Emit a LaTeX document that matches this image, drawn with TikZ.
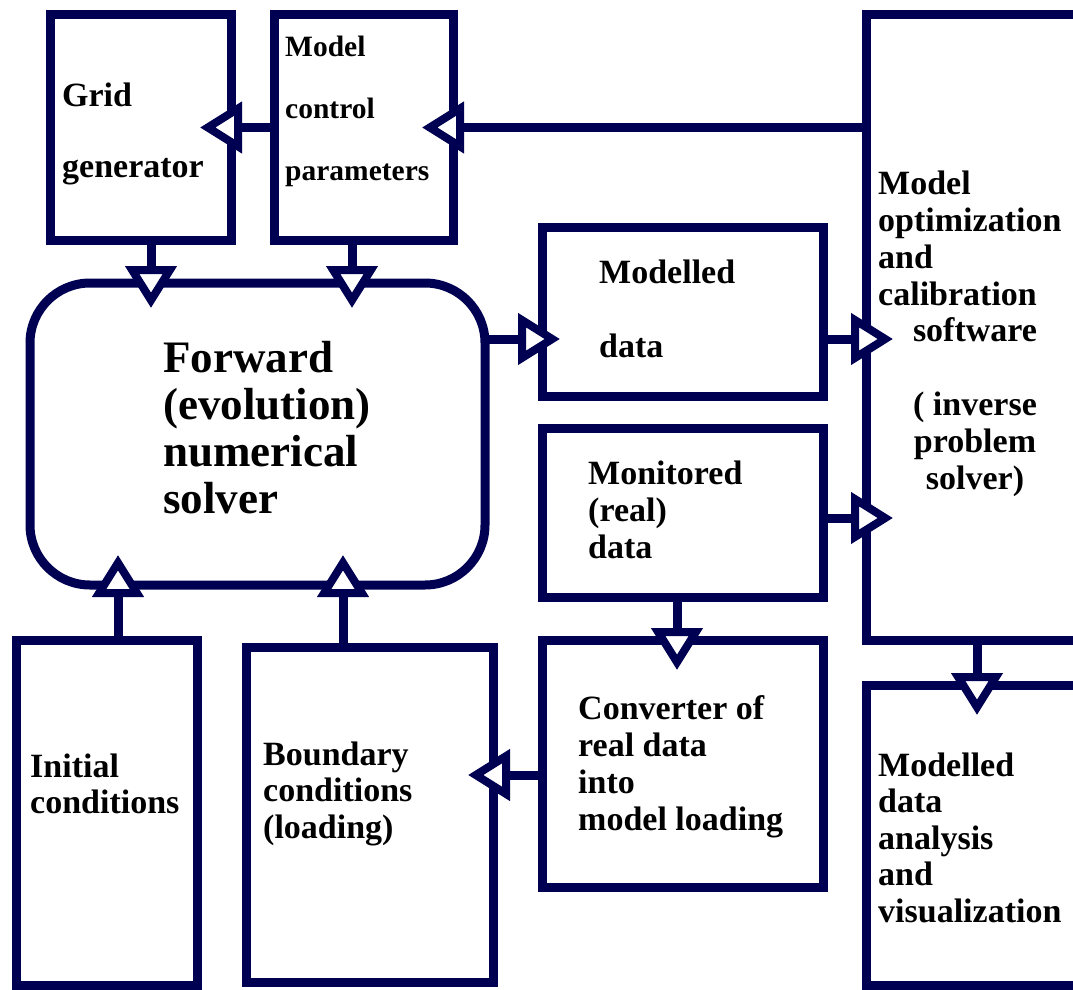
\documentclass[tikz,border=0pt]{standalone}
\usepackage{fontspec}
\setmainfont{Liberation Serif}
\usetikzlibrary{arrows.meta}
\definecolor{navy}{RGB}{0,0,82}

\begin{document}
\begin{tikzpicture}[
    x=1pt, y=-1pt,
    box/.style={draw=navy, line width=9pt, inner sep=0pt, outer sep=0pt},
    flow/.style={draw=navy, line width=9pt,
      -{Triangle[fill=white, length=42pt, width=50pt, line width=8pt]},
      shorten >=-#1},
    flow/.default=28pt,
    lbl/.style={anchor=base west, align=left, inner sep=0pt,
      font=\bfseries\fontsize{34}{37}\selectfont}
  ]
  \useasboundingbox (0,0) rectangle (1073,990);

  % boxes
  \node[box, minimum width=181pt, minimum height=225pt] (grid) at (140.5,127.5) {};
  \node[box, minimum width=179pt, minimum height=225pt] (ctrl) at (363.5,127.5) {};
  \node[box, minimum width=244pt, minimum height=625pt] (opt) at (988,327.5) {};
  \node[box, minimum width=244pt, minimum height=300pt] (anal) at (988,835) {};
  \node[box, rounded corners=60pt, minimum width=455pt, minimum height=302pt] (solver) at (257.5,434) {};
  \node[box, minimum width=281pt, minimum height=169pt] (mod) at (682.5,311.5) {};
  \node[box, minimum width=281pt, minimum height=169pt] (mon) at (682.5,512.5) {};
  \node[box, minimum width=281pt, minimum height=247pt] (conv) at (682.5,763.5) {};
  \node[box, minimum width=181pt, minimum height=345pt] (init) at (106.5,812.5) {};
  \node[box, minimum width=247pt, minimum height=335pt] (bound) at (369.5,814.5) {};

  % texts (anchored at the baseline of their last line)
  \node[lbl, font=\bfseries\fontsize{34}{71}\selectfont] (gridtxt) at (62,177) {Grid\\generator};
  \node[lbl, font=\bfseries\fontsize{29.5}{62}\selectfont] (ctrltxt) at (285,180) {Model\\control\\parameters};
  \node[lbl, font=\bfseries\fontsize{34}{36.8}\selectfont] (opttxt) at (878,305) {Model\\optimization\\and\\calibration};
  \node[lbl, anchor=base, align=center, font=\bfseries\fontsize{34}{36.8}\selectfont] (invtxt) at (975,489)
    {software\\[36.8pt]( inverse\\problem\\solver)};
  \node[lbl, font=\bfseries\fontsize{34}{74}\selectfont] (modtxt) at (599,357) {Modelled\\data};
  \node[lbl] (montxt) at (588,558) {Monitored\\(real)\\data};
  \node[lbl] (convtxt) at (578,830) {Converter of\\real data\\into\\model loading};
  \node[lbl, font=\bfseries\fontsize{34}{36.5}\selectfont] (boundtxt) at (263,838) {Boundary\\conditions\\(loading)};
  \node[lbl, font=\bfseries\fontsize{34}{36}\selectfont] (inittxt) at (30,813) {Initial\\conditions};
  \node[lbl, font=\bfseries\fontsize{34}{36.5}\selectfont] (analtxt) at (878,922) {Modelled\\data\\analysis\\and\\visualization};
  \node[lbl, font=\bfseries\fontsize{45}{47}\selectfont] (solvertxt) at (163,513) {Forward\\(evolution)\\numerical\\solver};

  % arrows
  \draw[flow=31pt] (ctrl.west) -- (grid.east);
  \draw[flow=31pt] (opt.west |- ctrl.east) -- (ctrl.east);
  \draw[flow=25pt] ([xshift=10.5pt]grid.south) -- ([xshift=10.5pt]grid.south |- solver.north);
  \draw[flow=25pt] ([xshift=-11.5pt]ctrl.south) -- ([xshift=-11.5pt]ctrl.south |- solver.north);
  \draw[flow=18pt] ([yshift=95pt]solver.east) -- ([yshift=95pt]solver.east -| mod.west);
  \draw[flow=27pt] ([yshift=-27.5pt]mod.east) -- ([yshift=-27.5pt]mod.east -| opt.west);
  \draw[flow=27pt] ([yshift=-5.5pt]mon.east) -- ([yshift=-5.5pt]mon.east -| opt.west);
  \draw[flow=30pt] ([xshift=-11pt]opt.south) -- ([xshift=-11pt]anal.north);
  \draw[flow=30pt] ([xshift=-5.5pt]mon.south) -- ([xshift=-5.5pt]conv.north);
  \draw[flow=25pt] ([yshift=-11.5pt]conv.west) -- ([yshift=-11.5pt]conv.west -| bound.east);
  \draw[flow=30pt] ([xshift=11.5pt]init.north) -- ([xshift=11.5pt]init.north |- solver.south);
  \draw[flow=30pt] ([xshift=-26.5pt]bound.north) -- ([xshift=-26.5pt]bound.north |- solver.south);
\end{tikzpicture}
\end{document}
